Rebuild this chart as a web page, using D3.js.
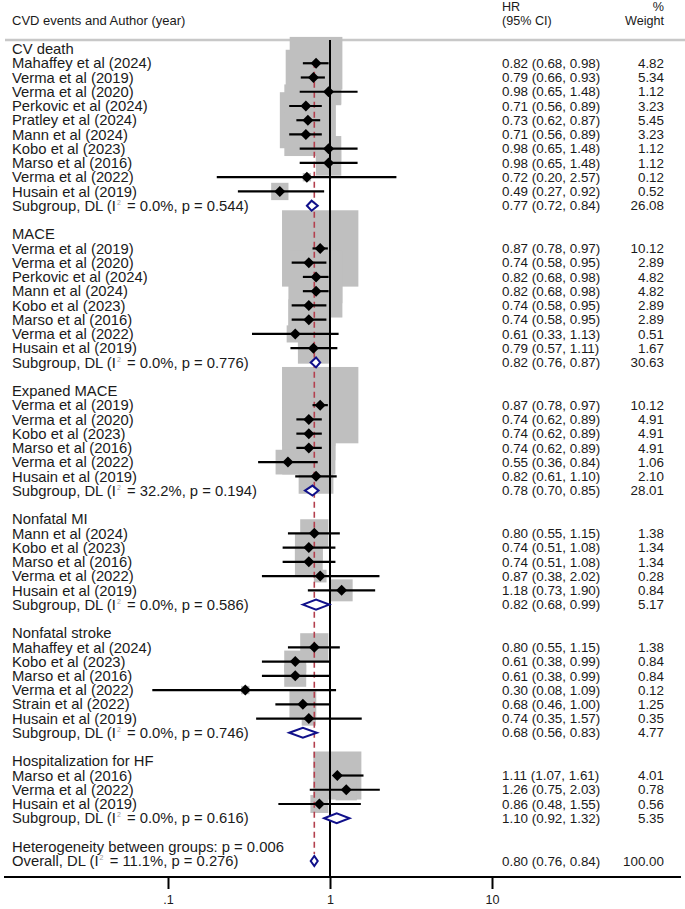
<!DOCTYPE html>
<html>
<head>
<meta charset="utf-8">
<script src="https://cdn.jsdelivr.net/npm/d3@7"></script>
<style>
  html, body { margin: 0; padding: 0; background: #fff; }
  svg { display: block; }
  text { font-family: "Liberation Sans", Arial, sans-serif; fill: #1a1a1a; }
</style>
</head>
<body>
<svg id="chart" width="685" height="909"></svg>
<script>
// ---------------- DATA ----------------
const groupNames = ["CV death", "MACE", "Expaned MACE", "Nonfatal MI", "Nonfatal stroke", "Hospitalization for HF"];

const studyLabels = [
  ["Mahaffey et al (2024)", "Verma et al (2019)", "Verma et al (2020)", "Perkovic et al (2024)", "Pratley et al (2024)", "Mann et al (2024)", "Kobo et al (2023)", "Marso et al (2016)", "Verma et al (2022)", "Husain et al (2019)"],
  ["Verma et al (2019)", "Verma et al (2020)", "Perkovic et al (2024)", "Mann et al (2024)", "Kobo et al (2023)", "Marso et al (2016)", "Verma et al (2022)", "Husain et al (2019)"],
  ["Verma et al (2019)", "Verma et al (2020)", "Kobo et al (2023)", "Marso et al (2016)", "Verma et al (2022)", "Husain et al (2019)"],
  ["Mann et al (2024)", "Kobo et al (2023)", "Marso et al (2016)", "Verma et al (2022)", "Husain et al (2019)"],
  ["Mahaffey et al (2024)", "Kobo et al (2023)", "Marso et al (2016)", "Verma et al (2022)", "Strain et al (2022)", "Husain et al (2019)"],
  ["Marso et al (2016)", "Verma et al (2022)", "Husain et al (2019)"]
];
const studyHR = [
  [0.82, 0.79, 0.98, 0.71, 0.73, 0.71, 0.98, 0.98, 0.72, 0.49],
  [0.87, 0.74, 0.82, 0.82, 0.74, 0.74, 0.61, 0.79],
  [0.87, 0.74, 0.74, 0.74, 0.55, 0.82],
  [0.80, 0.74, 0.74, 0.87, 1.18],
  [0.80, 0.61, 0.61, 0.30, 0.68, 0.74],
  [1.11, 1.26, 0.86]
];
const studyLo = [
  [0.68, 0.66, 0.65, 0.56, 0.62, 0.56, 0.65, 0.65, 0.20, 0.27],
  [0.78, 0.58, 0.68, 0.68, 0.58, 0.58, 0.33, 0.57],
  [0.78, 0.62, 0.62, 0.62, 0.36, 0.61],
  [0.55, 0.51, 0.51, 0.38, 0.73],
  [0.55, 0.38, 0.38, 0.08, 0.46, 0.35],
  [1.07, 0.75, 0.48]
];
const studyHi = [
  [0.98, 0.93, 1.48, 0.89, 0.87, 0.89, 1.48, 1.48, 2.57, 0.92],
  [0.97, 0.95, 0.98, 0.98, 0.95, 0.95, 1.13, 1.11],
  [0.97, 0.89, 0.89, 0.89, 0.84, 1.10],
  [1.15, 1.08, 1.08, 2.02, 1.90],
  [1.15, 0.99, 0.99, 1.09, 1.00, 1.57],
  [1.61, 2.03, 1.55]
];
const studyWeight = [
  [4.82, 5.34, 1.12, 3.23, 5.45, 3.23, 1.12, 1.12, 0.12, 0.52],
  [10.12, 2.89, 4.82, 4.82, 2.89, 2.89, 0.51, 1.67],
  [10.12, 4.91, 4.91, 4.91, 1.06, 2.10],
  [1.38, 1.34, 1.34, 0.28, 0.84],
  [1.38, 0.84, 0.84, 0.12, 1.25, 0.35],
  [4.01, 0.78, 0.56]
];

const subgroupHR = [0.77, 0.82, 0.78, 0.82, 0.68, 1.10];
const subgroupLo = [0.72, 0.76, 0.70, 0.68, 0.56, 0.92];
const subgroupHi = [0.84, 0.87, 0.85, 0.99, 0.83, 1.32];
const subgroupWeight = [26.08, 30.63, 28.01, 5.17, 4.77, 5.35];
const subgroupI2 = ["0.0%", "0.0%", "32.2%", "0.0%", "0.0%", "0.0%"];
const subgroupP = ["0.544", "0.776", "0.194", "0.586", "0.746", "0.616"];

const heterogeneityP = "0.006";
const overallHR = 0.80, overallLo = 0.76, overallHi = 0.84, overallWeight = 100.00;
const overallI2 = "11.1%", overallP = "0.276";

const tickValues = [0.1, 1, 10];
const tickLabels = [".1", "1", "10"];

// ---------------- LAYOUT ----------------
const svg = d3.select("#chart");
const rowY = d3.scaleLinear().domain([0, 57]).range([49, 861]);
const x = d3.scaleLog().domain([0.1, 10]).range([168, 492]);
const axisY = 877;
const sepY = 40;
const labelX = 12, hrX = 502, wtX = 664;
const labelFont = 14.8, numFont = 13.4;
const boxK = 24;
const navy = "#10108a";

// build rows
const studies = [], subgroups = [], headers = [];
let r = 0;
groupNames.forEach((g, gi) => {
  headers.push({ label: g, row: r });
  r++;
  studyLabels[gi].forEach((s, si) => {
    studies.push({ label: s, row: r, hr: studyHR[gi][si], lo: studyLo[gi][si], hi: studyHi[gi][si], w: studyWeight[gi][si] });
    r++;
  });
  subgroups.push({ row: r, hr: subgroupHR[gi], lo: subgroupLo[gi], hi: subgroupHi[gi], w: subgroupWeight[gi], i2: subgroupI2[gi], p: subgroupP[gi], pre: "Subgroup, DL (I" });
  r++;
  r++; // blank
});
const hetRow = r;
const overallRow = r + 1;

const fmt = d3.format(".2f");

// ---------- header ----------
const hf = 12.6;
svg.append("text").attr("x", labelX).attr("y", 25).attr("font-size", 13).text("CVD events and Author (year)");
svg.append("text").attr("x", hrX).attr("y", 10.5).attr("font-size", hf).text("HR");
svg.append("text").attr("x", hrX).attr("y", 25).attr("font-size", hf).text("(95% CI)");
svg.append("text").attr("x", wtX).attr("y", 10.5).attr("font-size", hf).attr("text-anchor", "end").text("%");
svg.append("text").attr("x", wtX).attr("y", 25).attr("font-size", hf).attr("text-anchor", "end").text("Weight");

svg.append("line").attr("x1", 5).attr("x2", 685).attr("y1", sepY).attr("y2", sepY)
  .attr("stroke", "#c8c8c8").attr("stroke-width", 2.5);

// ---------- grey weight boxes ----------
svg.append("g").selectAll("rect").data(studies).join("rect")
  .attr("x", d => x(d.hr) - boxK * Math.sqrt(d.w) / 2)
  .attr("y", d => rowY(d.row) - boxK * Math.sqrt(d.w) / 2)
  .attr("width", d => boxK * Math.sqrt(d.w))
  .attr("height", d => boxK * Math.sqrt(d.w))
  .attr("fill", "#bfbfbf");

// ---------- overall dashed line ----------
svg.append("line")
  .attr("x1", x(overallHR)).attr("x2", x(overallHR))
  .attr("y1", rowY(0.9)).attr("y2", rowY(overallRow) - 7)
  .attr("stroke", "#b3404e").attr("stroke-width", 1.6).attr("stroke-dasharray", "6,4");

// ---------- null line ----------
svg.append("line").attr("x1", x(1)).attr("x2", x(1)).attr("y1", sepY).attr("y2", axisY)
  .attr("stroke", "#000").attr("stroke-width", 2);

// ---------- CI lines ----------
svg.append("g").selectAll("line").data(studies).join("line")
  .attr("x1", d => x(d.lo)).attr("x2", d => x(d.hi))
  .attr("y1", d => rowY(d.row)).attr("y2", d => rowY(d.row))
  .attr("stroke", "#000").attr("stroke-width", 2.2);

// ---------- point diamonds ----------
const ds = 5.5;
svg.append("g").selectAll("path").data(studies).join("path")
  .attr("d", d => {
    const cx = x(d.hr), cy = rowY(d.row);
    return `M${cx - ds},${cy}L${cx},${cy - ds}L${cx + ds},${cy}L${cx},${cy + ds}Z`;
  })
  .attr("fill", "#000");

// ---------- subgroup & overall diamonds ----------
const sumDiamonds = subgroups.concat([{ row: overallRow, hr: overallHR, lo: overallLo, hi: overallHi }]);
svg.append("g").selectAll("path").data(sumDiamonds).join("path")
  .attr("d", d => {
    const cy = rowY(d.row), h = 5;
    return `M${x(d.lo)},${cy}L${x(d.hr)},${cy - h}L${x(d.hi)},${cy}L${x(d.hr)},${cy + h}Z`;
  })
  .attr("fill", "#fff").attr("stroke", navy).attr("stroke-width", 2);

// ---------- left labels ----------
const labG = svg.append("g").attr("font-size", labelFont);
const base = 5.2;
headers.forEach(h => {
  labG.append("text").attr("x", labelX).attr("y", rowY(h.row) + base).text(h.label);
});
studies.forEach(s => {
  labG.append("text").attr("x", labelX).attr("y", rowY(s.row) + base).text(s.label);
});
function i2Label(row, pre, i2, p) {
  const t = labG.append("text").attr("x", labelX).attr("y", rowY(row) + base);
  t.append("tspan").text(pre);
  t.append("tspan").attr("font-size", 7).attr("dx", 1).attr("dy", -6).attr("fill", "#999").text("2");
  t.append("tspan").attr("dx", 2).attr("dy", 6).text(` = ${i2}, p = ${p})`);
}
subgroups.forEach(s => i2Label(s.row, s.pre, s.i2, s.p));
labG.append("text").attr("x", labelX).attr("y", rowY(hetRow) + base).text(`Heterogeneity between groups: p = ${heterogeneityP}`);
i2Label(overallRow, "Overall, DL (I", overallI2, overallP);

// ---------- numeric columns ----------
const numG = svg.append("g").attr("font-size", numFont);
const nb = 4.7;
const numRows = studies.concat(subgroups);
numRows.forEach(d => {
  numG.append("text").attr("x", hrX).attr("y", rowY(d.row) + nb)
    .text(`${fmt(d.hr)} (${fmt(d.lo)}, ${fmt(d.hi)})`);
  numG.append("text").attr("x", wtX).attr("y", rowY(d.row) + nb).attr("text-anchor", "end")
    .text(fmt(d.w));
});
numG.append("text").attr("x", hrX).attr("y", rowY(overallRow) + nb)
  .text(`${fmt(overallHR)} (${fmt(overallLo)}, ${fmt(overallHi)})`);
numG.append("text").attr("x", wtX).attr("y", rowY(overallRow) + nb).attr("text-anchor", "end")
  .text(fmt(overallWeight));

// ---------- x axis ----------
svg.append("line").attr("x1", 4).attr("x2", 681).attr("y1", axisY).attr("y2", axisY)
  .attr("stroke", "#000").attr("stroke-width", 2);
const axis = d3.axisBottom(x).tickValues(tickValues)
  .tickFormat((d, i) => tickLabels[i]).tickSize(12).tickPadding(6);
const ag = svg.append("g").attr("transform", `translate(0,${axisY})`).call(axis);
ag.select(".domain").remove();
ag.selectAll(".tick line").attr("stroke", "#000").attr("stroke-width", 2);
ag.selectAll(".tick text").attr("font-size", 12.6).attr("fill", "#1a1a1a")
  .style("font-family", '"Liberation Sans", Arial, sans-serif');
</script>
</body>
</html>
